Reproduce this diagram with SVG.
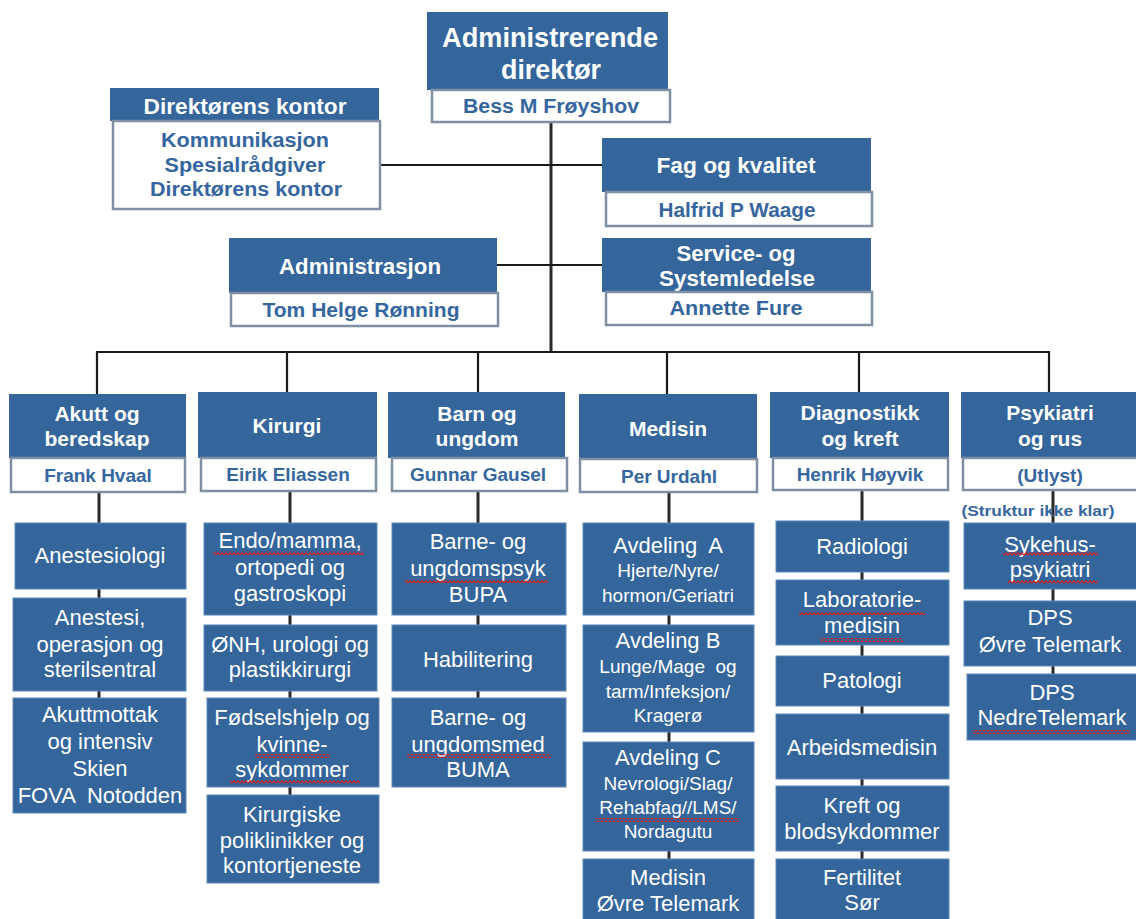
<svg xmlns="http://www.w3.org/2000/svg" width="1136" height="919" viewBox="0 0 1136 919">
<style>
.bl{fill:#34659b}
.wb{fill:#fff;stroke:#7f90a5;stroke-width:2.5}
.sb{fill:#34659b;stroke:#5e88b9;stroke-width:1}
.nt{font-family:"Liberation Sans Narrow","Liberation Sans",Arial,sans-serif;font-weight:bold;text-anchor:middle}
.ntw{fill:#fff}
.ntb{fill:#3566a0}
.dh{font-family:"Liberation Sans",Arial,sans-serif;font-weight:bold;font-size:21px;fill:#fff;text-anchor:middle}
.dn{font-family:"Liberation Sans",Arial,sans-serif;font-weight:bold;font-size:19px;fill:#3566a0;text-anchor:middle}
.st{font-family:"Liberation Sans",Arial,sans-serif;font-size:22px;fill:#fff;text-anchor:middle}
.ss{font-family:"Liberation Sans",Arial,sans-serif;font-size:19px;fill:#fff;text-anchor:middle}
.ln{stroke:#1a1a1a;stroke-width:2.2;fill:none}
.cl{stroke:#2a2a2a;stroke-width:3;fill:none}
</style>
<defs>
<pattern id="sq" width="4" height="4" patternUnits="userSpaceOnUse">
<path d="M0,3.2 L2,0.8 L4,3.2" fill="none" stroke="#d42020" stroke-width="1.2"/>
</pattern>
</defs>
<rect width="1136" height="919" fill="#fff"/>

<g id="connectors">
<line class="cl" x1="551" y1="122" x2="551" y2="353"/>
<line class="ln" x1="380" y1="165" x2="603" y2="165"/>
<line class="ln" x1="497" y1="265" x2="603" y2="265"/>
<line class="ln" x1="96" y1="352" x2="1050" y2="352"/>
<line class="ln" x1="97" y1="352" x2="97" y2="394"/>
<line class="ln" x1="287" y1="352" x2="287" y2="392"/>
<line class="ln" x1="478" y1="352" x2="478" y2="392"/>
<line class="ln" x1="667" y1="352" x2="667" y2="394"/>
<line class="ln" x1="859" y1="352" x2="859" y2="392"/>
<line class="ln" x1="1049" y1="352" x2="1049" y2="392"/>
<line class="cl" x1="99" y1="492" x2="99" y2="700"/>
<line class="cl" x1="290" y1="491" x2="290" y2="797"/>
<line class="cl" x1="478" y1="491" x2="478" y2="700"/>
<line class="cl" x1="669" y1="492" x2="669" y2="861"/>
<line class="cl" x1="862" y1="490" x2="862" y2="861"/>
<line class="cl" x1="1053" y1="490" x2="1053" y2="676"/>
</g>

<g id="ceo">
<rect class="bl" x="427" y="12" width="241" height="78"/>
<rect class="wb" x="432" y="90" width="238" height="32"/>
<text class="nt ntw" x="550" y="47" font-size="28" textLength="216" lengthAdjust="spacingAndGlyphs">Administrerende</text>
<text class="nt ntw" x="551" y="79" font-size="28" textLength="100" lengthAdjust="spacingAndGlyphs">direktør</text>
<text class="nt ntb" x="551" y="113" font-size="20" textLength="176" lengthAdjust="spacingAndGlyphs">Bess M Frøyshov</text>
</g>

<g id="direktorens-kontor">
<rect class="bl" x="110" y="88" width="269" height="33"/>
<rect class="wb" x="113" y="121" width="267" height="88"/>
<text class="nt ntw" x="245" y="114" font-size="22" textLength="203" lengthAdjust="spacingAndGlyphs">Direktørens kontor</text>
<text class="nt ntb" x="245" y="147" font-size="20" textLength="168" lengthAdjust="spacingAndGlyphs">Kommunikasjon</text>
<text class="nt ntb" x="245" y="172" font-size="20" textLength="161" lengthAdjust="spacingAndGlyphs">Spesialrådgiver</text>
<text class="nt ntb" x="246" y="196" font-size="20" textLength="192" lengthAdjust="spacingAndGlyphs">Direktørens kontor</text>
</g>

<g id="fag-og-kvalitet">
<rect class="bl" x="602" y="138" width="269" height="54"/>
<rect class="wb" x="606" y="192" width="266" height="34"/>
<text class="nt ntw" x="736" y="173" font-size="22" textLength="159" lengthAdjust="spacingAndGlyphs">Fag  og  kvalitet</text>
<text class="nt ntb" x="737" y="217" font-size="20" textLength="157" lengthAdjust="spacingAndGlyphs">Halfrid P Waage</text>
</g>

<g id="administrasjon">
<rect class="bl" x="229" y="238" width="268" height="55"/>
<rect class="wb" x="231" y="293" width="267" height="33"/>
<text class="nt ntw" x="360" y="274" font-size="22" textLength="162" lengthAdjust="spacingAndGlyphs">Administrasjon</text>
<text class="nt ntb" x="361" y="317" font-size="20" textLength="197" lengthAdjust="spacingAndGlyphs">Tom Helge Rønning</text>
</g>

<g id="service-og-systemledelse">
<rect class="bl" x="602" y="238" width="269" height="54"/>
<rect class="wb" x="606" y="292" width="266" height="33"/>
<text class="nt ntw" x="736" y="261" font-size="22" textLength="119" lengthAdjust="spacingAndGlyphs">Service- og</text>
<text class="nt ntw" x="737" y="286" font-size="22" textLength="156" lengthAdjust="spacingAndGlyphs">Systemledelse</text>
<text class="nt ntb" x="736" y="315" font-size="20" textLength="133" lengthAdjust="spacingAndGlyphs">Annette Fure</text>
</g>

<g id="akutt-og-beredskap">
<rect class="bl" x="9" y="394" width="177" height="64"/>
<rect class="wb" x="11" y="458" width="174" height="34"/>
<text class="dh" x="97" y="421">Akutt og</text>
<text class="dh" x="97" y="446">beredskap</text>
<text class="dn" x="98" y="482">Frank Hvaal</text>
</g>
<g id="kirurgi">
<rect class="bl" x="198" y="392" width="179" height="66"/>
<rect class="wb" x="201" y="458" width="175" height="33"/>
<text class="dh" x="287" y="433">Kirurgi</text>
<text class="dn" x="288" y="481">Eirik Eliassen</text>
</g>
<g id="barn-og-ungdom">
<rect class="bl" x="388" y="392" width="177" height="66"/>
<rect class="wb" x="392" y="458" width="175" height="33"/>
<text class="dh" x="477" y="421">Barn og</text>
<text class="dh" x="477" y="446">ungdom</text>
<text class="dn" x="478" y="481">Gunnar Gausel</text>
</g>
<g id="medisin">
<rect class="bl" x="579" y="394" width="178" height="65"/>
<rect class="wb" x="580" y="459" width="177" height="33"/>
<text class="dh" x="668" y="436">Medisin</text>
<text class="dn" x="669" y="483">Per Urdahl</text>
</g>
<g id="diagnostikk-og-kreft">
<rect class="bl" x="770" y="392" width="179" height="66"/>
<rect class="wb" x="773" y="458" width="175" height="32"/>
<text class="dh" x="860" y="420">Diagnostikk</text>
<text class="dh" x="860" y="446">og kreft</text>
<text class="dn" x="860" y="481">Henrik Høyvik</text>
</g>
<g id="psykiatri-og-rus">
<rect class="bl" x="961" y="392" width="178" height="66"/>
<rect class="wb" x="963" y="458" width="178" height="32"/>
<text class="dh" x="1050" y="420">Psykiatri</text>
<text class="dh" x="1050" y="446">og rus</text>
<text class="dn" x="1050" y="482">(Utlyst)</text>
<text x="1038" y="516" font-family="'Liberation Sans Narrow','Liberation Sans',Arial,sans-serif" font-weight="bold" font-size="15" fill="#3566a0" text-anchor="middle" textLength="153" lengthAdjust="spacingAndGlyphs">(Struktur ikke klar)</text>
</g>

<g id="anestesiologi"><rect class="sb" x="15" y="523" width="171" height="66"/><text class="st" x="100" y="563">Anestesiologi</text></g>
<g id="anestesi"><rect class="sb" x="13" y="598" width="173" height="93"/><text class="st" x="100" y="625">Anestesi,</text><text class="st" x="100" y="652">operasjon og</text><text class="st" x="100" y="677">sterilsentral</text></g>
<g id="akuttmottak"><rect class="sb" x="13" y="698" width="173" height="115"/><text class="st" x="100" y="722">Akuttmottak</text><text class="st" x="100" y="749">og intensiv</text><text class="st" x="100" y="776">Skien</text><text class="st" x="100" y="803" style="white-space:pre">FOVA  Notodden</text></g>

<g id="endo"><rect class="sb" x="204" y="523" width="173" height="92"/><text class="st" x="290" y="548">Endo/mamma,</text><text class="st" x="290" y="575">ortopedi og</text><text class="st" x="290" y="601">gastroskopi</text></g>
<g id="onh"><rect class="sb" x="204" y="625" width="173" height="66"/><text class="st" x="290" y="652">ØNH, urologi og</text><text class="st" x="290" y="677">plastikkirurgi</text></g>
<g id="fodselshjelp"><rect class="sb" x="207" y="698" width="172" height="89"/><text class="st" x="292" y="725">Fødselshjelp og</text><text class="st" x="292" y="752">kvinne-</text><text class="st" x="292" y="777">sykdommer</text></g>
<g id="kirurgiske"><rect class="sb" x="207" y="795" width="172" height="88"/><text class="st" x="292" y="822">Kirurgiske</text><text class="st" x="292" y="848">poliklinikker og</text><text class="st" x="292" y="873">kontortjeneste</text></g>

<g id="bupa"><rect class="sb" x="392" y="523" width="174" height="92"/><text class="st" x="478" y="549">Barne- og</text><text class="st" x="478" y="576">ungdomspsyk</text><text class="st" x="478" y="602">BUPA</text></g>
<g id="habilitering"><rect class="sb" x="392" y="625" width="174" height="66"/><text class="st" x="478" y="667">Habilitering</text></g>
<g id="buma"><rect class="sb" x="392" y="698" width="174" height="89"/><text class="st" x="478" y="725">Barne- og</text><text class="st" x="478" y="752">ungdomsmed</text><text class="st" x="478" y="777">BUMA</text></g>

<g id="avdeling-a"><rect class="sb" x="583" y="523" width="171" height="92"/><text class="st" x="668" y="553" style="white-space:pre">Avdeling  A</text><text class="ss" x="668" y="577">Hjerte/Nyre/</text><text class="ss" x="668" y="602">hormon/Geriatri</text></g>
<g id="avdeling-b"><rect class="sb" x="583" y="625" width="171" height="107"/><text class="st" x="668" y="648">Avdeling B</text><text class="ss" x="668" y="673" style="white-space:pre">Lunge/Mage  og</text><text class="ss" x="668" y="698">tarm/Infeksjon/</text><text class="ss" x="668" y="722">Kragerø</text></g>
<g id="avdeling-c"><rect class="sb" x="583" y="742" width="171" height="109"/><text class="st" x="668" y="765">Avdeling C</text><text class="ss" x="668" y="790">Nevrologi/Slag/</text><text class="ss" x="668" y="814">Rehabfag//LMS/</text><text class="ss" x="668" y="838">Nordagutu</text></g>
<g id="medisin-ovre-telemark"><rect class="sb" x="583" y="859" width="171" height="70"/><text class="st" x="668" y="885">Medisin</text><text class="st" x="668" y="911">Øvre Telemark</text></g>

<g id="radiologi"><rect class="sb" x="776" y="521" width="173" height="51"/><text class="st" x="862" y="554">Radiologi</text></g>
<g id="laboratoriemedisin"><rect class="sb" x="776" y="580" width="173" height="65"/><text class="st" x="862" y="607">Laboratorie-</text><text class="st" x="862" y="633">medisin</text></g>
<g id="patologi"><rect class="sb" x="776" y="656" width="173" height="50"/><text class="st" x="862" y="688">Patologi</text></g>
<g id="arbeidsmedisin"><rect class="sb" x="776" y="714" width="173" height="65"/><text class="st" x="862" y="755">Arbeidsmedisin</text></g>
<g id="kreft"><rect class="sb" x="776" y="786" width="173" height="65"/><text class="st" x="862" y="813">Kreft og</text><text class="st" x="862" y="839">blodsykdommer</text></g>
<g id="fertilitet"><rect class="sb" x="776" y="859" width="173" height="70"/><text class="st" x="862" y="885">Fertilitet</text><text class="st" x="862" y="910">Sør</text></g>

<g id="sykehuspsykiatri"><rect class="sb" x="964" y="523" width="176" height="66"/><text class="st" x="1050" y="552">Sykehus-</text><text class="st" x="1050" y="577">psykiatri</text></g>
<g id="dps-ovre"><rect class="sb" x="964" y="601" width="176" height="65"/><text class="st" x="1050" y="625">DPS</text><text class="st" x="1050" y="652">Øvre Telemark</text></g>
<g id="dps-nedre"><rect class="sb" x="967" y="674" width="172" height="66"/><text class="st" x="1052" y="700">DPS</text><text class="st" x="1052" y="725">NedreTelemark</text></g>

<g id="spellcheck-marks" fill="url(#sq)">
<rect x="213" y="551" width="151" height="4"/>
<rect x="255" y="754" width="75" height="4"/>
<rect x="230" y="780" width="130" height="4"/>
<rect x="405" y="579" width="143" height="4"/>
<rect x="407" y="754" width="144" height="4"/>
<rect x="595" y="818" width="144" height="4"/>
<rect x="1003" y="552" width="95" height="4"/>
<rect x="1008" y="580" width="90" height="4"/>
<rect x="799" y="611" width="126" height="4"/>
<rect x="820" y="638" width="83" height="4"/>
<rect x="973" y="730" width="157" height="4"/>
</g>
</svg>
